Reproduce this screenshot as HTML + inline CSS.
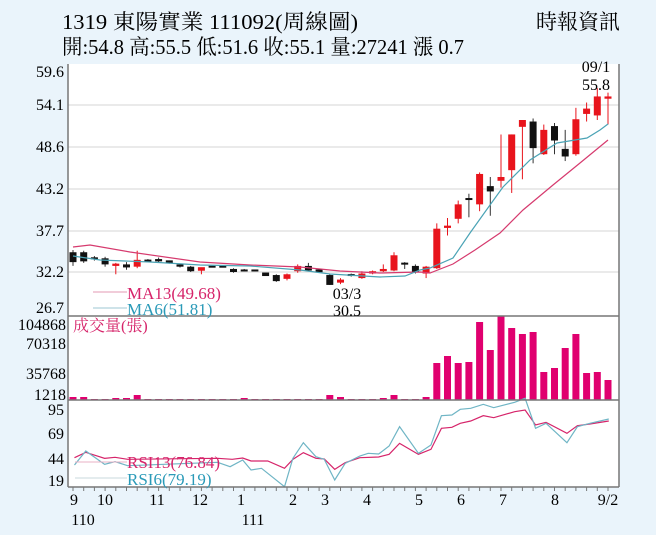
<!DOCTYPE html>
<html><head><meta charset="utf-8"><style>
html,body{margin:0;padding:0;background:#eaf4fb;}
svg{display:block;font-family:"Liberation Serif","Noto Serif CJK SC",serif;}
</style></head><body>
<svg id="s" width="656" height="535" xmlns="http://www.w3.org/2000/svg">
<rect x="0" y="0" width="656" height="535" fill="#eaf4fb"/>
<rect x="68" y="64" width="551" height="423" fill="#fff"/>
<g stroke="#e3e3e3" stroke-width="1.5">
<line x1="68" x2="619" y1="105" y2="105"/><line x1="68" x2="619" y1="147" y2="147"/>
<line x1="68" x2="619" y1="189" y2="189"/><line x1="68" x2="619" y1="231" y2="231"/>
<line x1="68" x2="619" y1="272" y2="272"/>
</g>
<g id="g"></g>
<g stroke="#777" stroke-width="1.5">
<line x1="68" x2="68" y1="64" y2="487"/><line x1="619" x2="619" y1="64" y2="487"/>
<line x1="68" x2="619" y1="316" y2="316"/><line x1="68" x2="619" y1="400" y2="400"/>
<line x1="68" x2="619" y1="487" y2="487"/>
</g>
<text x="62" y="29" font-size="21" textLength="296" lengthAdjust="spacingAndGlyphs">1319  東陽實業 111092(周線圖)</text>
<text x="62" y="54" font-size="21" textLength="402" lengthAdjust="spacingAndGlyphs">開:54.8 高:55.5 低:51.6 收:55.1 量:27241 漲 0.7</text>
<text x="536" y="29" font-size="21" textLength="84" lengthAdjust="spacingAndGlyphs">時報資訊</text>
<g font-size="16" text-anchor="end">
<text x="64" y="77">59.6</text><text x="64" y="110">54.1</text><text x="64" y="152">48.6</text>
<text x="64" y="194">43.2</text><text x="64" y="236">37.7</text><text x="64" y="277">32.2</text>
<text x="64" y="313">26.7</text>
<text x="66" y="330">104868</text><text x="66" y="349">70318</text><text x="66" y="379">35768</text><text x="66" y="400">1218</text>
<text x="64" y="415">95</text><text x="64" y="439">69</text><text x="64" y="464">44</text><text x="64" y="486">19</text>
</g>
<g font-size="16" text-anchor="middle">
<text x="596" y="72">09/1</text><text x="596" y="90">55.8</text>
<text x="347" y="299">03/3</text><text x="347" y="316">30.5</text>
<text x="74" y="505">9</text><text x="105" y="505">10</text><text x="157" y="505">11</text><text x="200" y="505">12</text>
<text x="241" y="505">1</text><text x="293" y="505">2</text><text x="325" y="505">3</text><text x="367" y="505">4</text>
<text x="419" y="505">5</text><text x="461" y="505">6</text><text x="503" y="505">7</text><text x="555" y="505">8</text>
<text x="608" y="505">9/2</text>
<text x="83" y="525">110</text><text x="253" y="525">111</text>
</g>
<line x1="93" x2="127" y1="292" y2="292" stroke="#e39ab3" stroke-width="1"/>
<line x1="93" x2="127" y1="308" y2="308" stroke="#9cc7d3" stroke-width="1"/>
<text x="127" y="299" font-size="17" fill="#d6246a">MA13(49.68)</text>
<text x="127" y="315" font-size="17" fill="#2a9ab8">MA6(51.81)</text>
<text x="73" y="331" font-size="16" fill="#d6246a">成交量(張)</text>
<line x1="75" x2="127" y1="478" y2="478" stroke="#c9d9de" stroke-width="1"/>
<line x1="75" x2="127" y1="462" y2="462" stroke="#e8b0c4" stroke-width="1"/>
<text x="127" y="468" font-size="17" fill="#d6246a">RSI13(76.84)</text>
<text x="127" y="485" font-size="17" fill="#2a9ab8">RSI6(79.19)</text>
</svg>
<script>
var g=document.getElementById('g'),NS='http://www.w3.org/2000/svg';
function el(t,a){var e=document.createElementNS(NS,t);for(var k in a)e.setAttribute(k,a[k]);g.appendChild(e);return e;}
function Y(p){return 272-(p-32.2)*7.6;}
var C=[[34.8,33.5,35.1,33.0],[34.8,33.6,35.0,33.4],[34.0,34.0,34.3,33.7],[34.0,33.2,34.2,32.9],[33.0,33.3,33.4,31.9],
[33.2,32.8,33.5,32.5],[32.9,33.8,35.0,32.7],[33.7,33.7,33.9,33.5],[33.9,33.6,34.1,33.5],[33.6,33.5,33.7,33.3],
[33.2,32.9,33.3,32.8],[32.9,32.3,33.0,32.2],[32.5,32.7,32.8,31.9],[32.9,32.9,33.0,32.8],[32.9,32.9,33.0,32.8],
[32.6,32.2,32.7,32.1],[32.4,32.4,32.6,32.3],[32.4,32.4,32.5,32.3],[32.0,31.8,32.1,31.7],[31.8,31.0,31.9,30.9],
[31.3,31.9,32.0,31.1],[32.3,33.0,33.2,32.1],[33.0,32.4,33.4,32.3],[32.4,32.3,32.5,32.1],[31.8,30.5,31.9,30.5],
[30.8,31.2,31.4,30.6],[31.8,31.8,32.0,31.6],[31.4,32.0,32.3,31.3],[32.0,32.3,32.4,31.9],[32.3,32.6,33.2,32.2],
[32.4,34.4,34.8,32.3],[33.3,33.3,33.5,32.6],[33.0,32.2,33.2,32.0],[32.0,32.9,33.0,31.4],[32.7,37.9,38.6,32.6],
[38.0,38.3,39.3,37.0],[39.2,41.1,41.6,38.6],[41.8,41.8,42.5,39.4],[41.1,45.1,45.3,40.2],[43.5,42.8,44.7,39.6],
[44.2,44.7,50.3,43.3],[45.6,50.3,50.3,42.6],[51.3,52.2,52.2,44.4],[52.0,48.5,52.4,46.5],[47.7,50.9,51.6,47.6],
[51.4,49.5,51.8,47.7],[48.4,47.4,50.9,46.8],[47.7,52.3,53.8,47.5],[53.0,53.7,54.5,52.0],[52.8,55.3,56.4,52.2],
[55.0,55.3,55.8,51.6]];
var n=C.length,x0=73,dx=(608-73)/(n-1);
var V=[3,3,1,1,2,2,5,1,1,1,1,1,1,1,1,1,2,1,1,1,1,1,1,1,5,3,1,1,1,2,5,1,1,3,37,44,37,38,78,50,84,72,66,68,28,32,52,66,27,28,20];
for(var i=0;i<n;i++){var c=C[i],x=x0+i*dx,up=c[1]>c[0],col=up?'#e8141c':'#111';
el('line',{x1:x,x2:x,y1:Y(c[2]),y2:Y(c[3]),stroke:up?'#e8141c':'#333','stroke-width':1});
var t=Y(Math.max(c[0],c[1])),b=Y(Math.min(c[0],c[1]));if(b-t<2){t-=1;b+=1;}
el('rect',{x:x-3.5,y:t,width:7,height:b-t,fill:col});
var h=V[i];el('rect',{x:x-3.5,y:400-h,width:7,height:h,fill:'#e0006f'});}
function pl(pts,c,w){el('polyline',{points:pts.map(function(p){return p.join(',')}).join(' '),fill:'none',stroke:c,'stroke-width':w||1.2});}
pl([[73,247],[90,245],[130,252],[200,262],[250,265],[300,267],[340,271],[380,273],[420,272],[430,273],[453,264],[475,250],[500,233],[523,210],[553,185],[580,163],[608,140]],'#d63a6e');
pl([[73,256],[100,260],[150,262],[200,265],[250,266],[300,270],[330,274],[380,277],[405,276],[420,270],[430,268],[453,258],[470,233],[490,205],[503,187],[530,160],[557,143],[587,138],[600,130],[608,124]],'#4aa3b5');
function rs(a){return a.map(function(p){return [p[0]/2.39,395+p[1]/3];});}
pl(rs([[178,188],[205,172],[250,190],[275,187],[305,193],[520,190],[555,193],[580,189],[600,198],[640,198],[680,220],[700,193],[725,173],[755,190],[775,192],[800,223],[825,203],[860,188],[905,186],[930,178],[955,145],[1000,178],[1030,163],[1055,100],[1080,97],[1100,85],[1125,78],[1155,62],[1180,68],[1230,50],[1255,45],[1280,90],[1305,82],[1355,115],[1380,92],[1410,87],[1455,78]]),'#d6246a');
pl(rs([[178,210],[205,168],[250,208],[275,200],[305,212],[520,202],[550,215],[580,195],[600,225],[625,220],[680,275],[700,190],[725,143],[755,185],[775,193],[800,255],[825,205],[860,183],[880,175],[905,177],[930,153],[955,95],[1000,175],[1030,150],[1055,62],[1080,60],[1100,43],[1125,40],[1155,28],[1180,38],[1230,22],[1255,10],[1280,100],[1305,85],[1355,143],[1380,95],[1410,85],[1455,72]]),'#6fb5c5');
for(var i=0;i<n;i++){var x=x0+i*dx;el('line',{x1:x,x2:x,y1:487,y2:491,stroke:'#777','stroke-width':1});}
</script>
</body></html>
